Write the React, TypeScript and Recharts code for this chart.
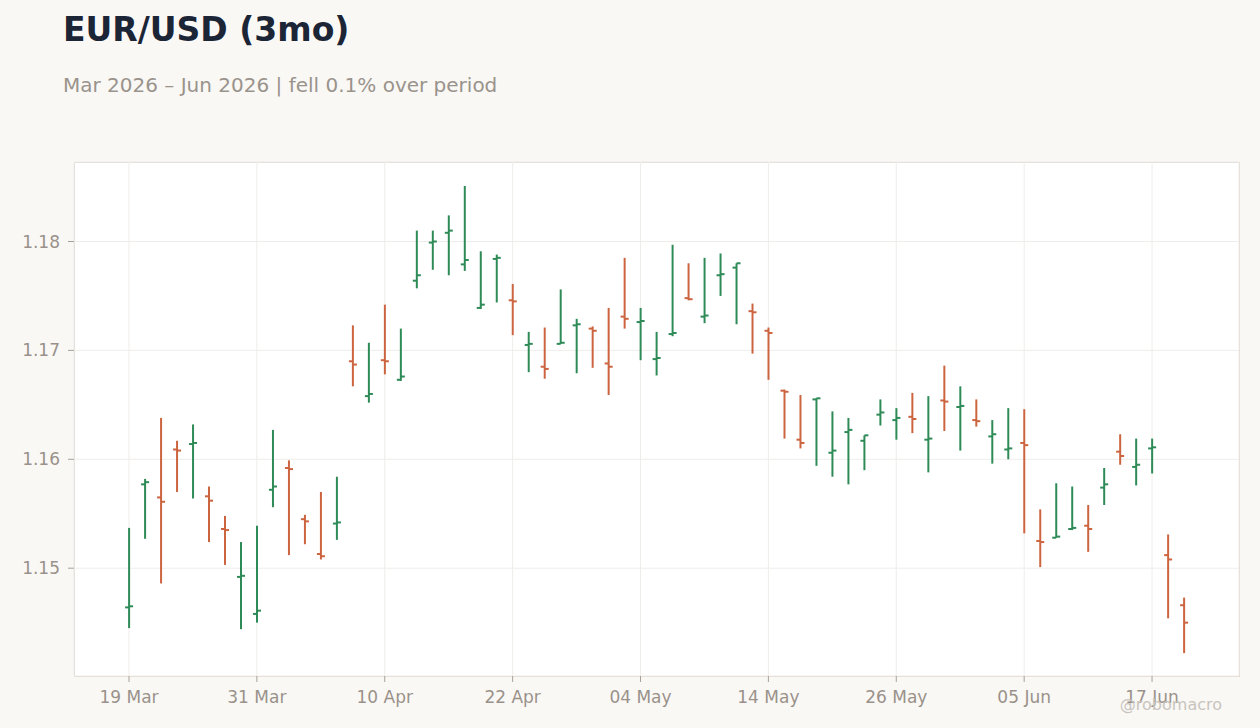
import React from "react";
import {
  ComposedChart,
  Bar,
  XAxis,
  YAxis,
  CartesianGrid,
} from "recharts";

// trading days shown on the chart
const dates = [
  "19 Mar", "20 Mar", "23 Mar", "24 Mar", "25 Mar", "26 Mar", "27 Mar", "30 Mar", "31 Mar",
  "01 Apr", "02 Apr", "03 Apr", "06 Apr", "07 Apr", "08 Apr", "09 Apr", "10 Apr",
  "13 Apr", "14 Apr", "15 Apr", "16 Apr", "17 Apr", "20 Apr", "21 Apr", "22 Apr",
  "23 Apr", "24 Apr", "27 Apr", "28 Apr", "29 Apr", "30 Apr", "01 May",
  "04 May", "05 May", "06 May", "07 May", "08 May", "11 May", "12 May", "13 May",
  "14 May", "15 May", "18 May", "19 May", "20 May", "21 May", "22 May", "25 May",
  "26 May", "27 May", "28 May", "29 May", "01 Jun", "02 Jun", "03 Jun", "04 Jun",
  "05 Jun", "08 Jun", "09 Jun", "10 Jun", "11 Jun", "12 Jun", "15 Jun", "16 Jun",
  "17 Jun", "18 Jun", "19 Jun",
];

const opens = [
  1.1464, 1.1577, 1.1565, 1.1609, 1.1614, 1.1566, 1.1536, 1.1492, 1.1458,
  1.1572, 1.1592, 1.1545, 1.1513, 1.1541, 1.1690, 1.1658, 1.1691,
  1.1673, 1.1764, 1.1799, 1.1808, 1.1779, 1.1739, 1.1784, 1.1746,
  1.1705, 1.1685, 1.1706, 1.1723, 1.1720, 1.1688, 1.1731,
  1.1726, 1.1692, 1.1715, 1.1748, 1.1731, 1.1769, 1.1776, 1.1736,
  1.1718, 1.1663, 1.1618, 1.1655, 1.1606, 1.1625, 1.1617, 1.1641,
  1.1636, 1.1639, 1.1618, 1.1654, 1.1648, 1.1636, 1.1621, 1.1609,
  1.1615, 1.1525, 1.1528, 1.1536, 1.1539, 1.1574, 1.1607, 1.1593,
  1.1610, 1.1512, 1.1466,
];

const highs = [
  1.1537, 1.1582, 1.1638, 1.1617, 1.1632, 1.1575, 1.1548, 1.1524, 1.1539,
  1.1627, 1.1599, 1.1549, 1.1570, 1.1584, 1.1723, 1.1707, 1.1742,
  1.1720, 1.1810, 1.1810, 1.1824, 1.1851, 1.1791, 1.1788, 1.1761,
  1.1717, 1.1721, 1.1756, 1.1729, 1.1722, 1.1739, 1.1785,
  1.1739, 1.1717, 1.1797, 1.1780, 1.1785, 1.1789, 1.1780, 1.1743,
  1.1721, 1.1664, 1.1659, 1.1656, 1.1644, 1.1638, 1.1622, 1.1655,
  1.1647, 1.1661, 1.1658, 1.1686, 1.1667, 1.1655, 1.1636, 1.1647,
  1.1646, 1.1554, 1.1578, 1.1575, 1.1558, 1.1592, 1.1623, 1.1619,
  1.1619, 1.1531, 1.1473,
];

const lows = [
  1.1445, 1.1527, 1.1486, 1.1570, 1.1564, 1.1524, 1.1503, 1.1444, 1.1450,
  1.1556, 1.1512, 1.1522, 1.1508, 1.1526, 1.1667, 1.1652, 1.1678,
  1.1672, 1.1757, 1.1774, 1.1769, 1.1773, 1.1738, 1.1744, 1.1714,
  1.1680, 1.1674, 1.1706, 1.1679, 1.1684, 1.1659, 1.1720,
  1.1691, 1.1677, 1.1713, 1.1746, 1.1725, 1.1750, 1.1724, 1.1697,
  1.1673, 1.1619, 1.1610, 1.1594, 1.1584, 1.1577, 1.1590, 1.1631,
  1.1618, 1.1624, 1.1588, 1.1626, 1.1608, 1.1630, 1.1596, 1.1600,
  1.1532, 1.1501, 1.1528, 1.1535, 1.1515, 1.1558, 1.1595, 1.1576,
  1.1587, 1.1454, 1.1422,
];

const closes = [
  1.1465, 1.1579, 1.1561, 1.1608, 1.1615, 1.1562, 1.1535, 1.1493, 1.1461,
  1.1575, 1.1591, 1.1543, 1.1511, 1.1542, 1.1687, 1.1660, 1.1690,
  1.1676, 1.1769, 1.1800, 1.1810, 1.1783, 1.1742, 1.1785, 1.1745,
  1.1706, 1.1683, 1.1707, 1.1724, 1.1718, 1.1685, 1.1729,
  1.1727, 1.1693, 1.1716, 1.1747, 1.1732, 1.1770, 1.1780, 1.1735,
  1.1716, 1.1662, 1.1615, 1.1656, 1.1608, 1.1627, 1.1622, 1.1643,
  1.1638, 1.1637, 1.1619, 1.1653, 1.1649, 1.1635, 1.1623, 1.1610,
  1.1613, 1.1524, 1.1529, 1.1537, 1.1536, 1.1577, 1.1603, 1.1595,
  1.1611, 1.1508, 1.1450,
];

const xTicks = ["19 Mar", "31 Mar", "10 Apr", "22 Apr", "04 May", "14 May", "26 May", "05 Jun", "17 Jun"];
const yTicks = [1.15, 1.16, 1.17, 1.18];

const UP = "#2e8b57";
const DOWN = "#cc6440";
const TICK_COLOR = "#9a928a";

const data = dates.map((date, i) => ({
  date,
  open: opens[i],
  high: highs[i],
  low: lows[i],
  close: closes[i],
  range: [lows[i], highs[i]],
}));

// one OHLC bar: high-low stem, open tick to the left, close tick to the right
const OhlcShape = (props: any) => {
  const { x, y, width, height, payload } = props;
  if (x == null || y == null) return null;
  const cx = x + width / 2;
  const top = Math.min(y, y + height);
  const h = Math.abs(height);
  const span = payload.high - payload.low || 1;
  const yOf = (v: number) => top + ((payload.high - v) / span) * h;
  const color = payload.close >= payload.open ? UP : DOWN;
  return (
    <g>
      <line x1={cx} x2={cx} y1={top} y2={top + h} stroke={color} strokeWidth={2} />
      <line x1={cx - 4} x2={cx} y1={yOf(payload.open)} y2={yOf(payload.open)} stroke={color} strokeWidth={2} />
      <line x1={cx} x2={cx + 4} y1={yOf(payload.close)} y2={yOf(payload.close)} stroke={color} strokeWidth={2} />
    </g>
  );
};

export default function App() {
  return (
    <div
      style={{
        position: "absolute",
        left: 0,
        top: 0,
        width: 1260,
        height: 728,
        background: "#f9f8f5",
        fontFamily: "'DejaVu Sans', sans-serif",
        overflow: "hidden",
      }}
    >
      <div
        style={{
          position: "absolute",
          left: 63,
          top: 13,
          fontSize: 33,
          lineHeight: "33px",
          fontWeight: "bold",
          color: "#1c2536",
          whiteSpace: "nowrap",
        }}
      >
        EUR/USD (3mo)
      </div>
      <div
        style={{
          position: "absolute",
          left: 63,
          top: 75,
          fontSize: 20,
          lineHeight: "20px",
          color: "#9a938c",
          whiteSpace: "nowrap",
        }}
      >
        Mar 2026 – Jun 2026 | fell 0.1% over period
      </div>

      {/* plot panel */}
      <div
        style={{
          position: "absolute",
          left: 74,
          top: 162,
          width: 1166,
          height: 515,
          boxSizing: "border-box",
          background: "#ffffff",
          border: "1px solid #ddd6cc",
        }}
      />

      <div style={{ position: "absolute", left: 0, top: 0 }}>
        <ComposedChart
          width={1260}
          height={728}
          data={data}
          margin={{ top: 162, right: 21, bottom: 22, left: 0 }}
        >
          <CartesianGrid stroke="#efedea" strokeWidth={1} />
          <XAxis
            dataKey="date"
            type="category"
            ticks={xTicks}
            interval={0}
            padding={{ left: 47, right: 47 }}
            height={30}
            axisLine={false}
            tickLine={{ stroke: "#a8a098" }}
            tickSize={6}
            tickMargin={9}
            tick={{ fontSize: 17, fill: TICK_COLOR }}
          />
          <YAxis
            type="number"
            domain={[1.1401, 1.1873]}
            ticks={yTicks}
            width={74}
            axisLine={false}
            tickLine={{ stroke: "#a8a098" }}
            tickSize={6}
            tickMargin={8}
            tick={{ fontSize: 17, fill: TICK_COLOR }}
            tickFormatter={(v: number) => v.toFixed(2)}
          />
          <Bar dataKey="range" shape={OhlcShape} isAnimationActive={false} />
        </ComposedChart>
      </div>

      <div
        style={{
          position: "absolute",
          right: 38,
          top: 697,
          fontSize: 16,
          lineHeight: "16px",
          color: "#c9c4be",
          whiteSpace: "nowrap",
        }}
      >
        @robomacro
      </div>
    </div>
  );
}
